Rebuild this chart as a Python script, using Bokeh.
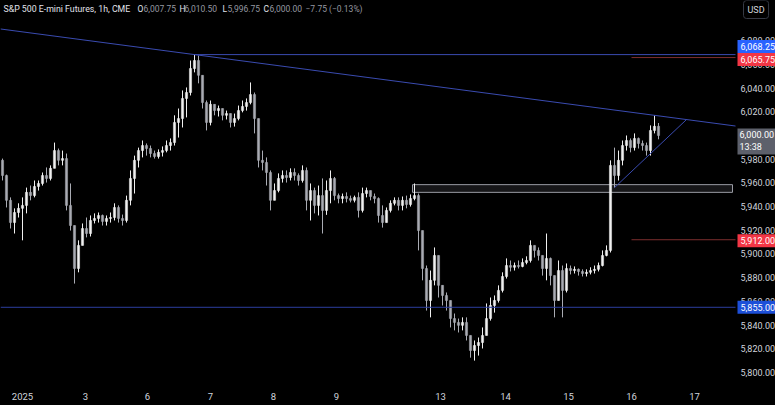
from bokeh.plotting import figure
from bokeh.models import Range1d, FixedTicker, Label, ColumnDataSource
from bokeh.core.properties import value
from bokeh.embed import file_html
from bokeh.resources import INLINE

# ---------------- data ----------------
first_open = 5979.0
closes = [
    5966.25, 5945.25, 5926.5, 5935, 5938.5, 5941, 5952, 5949.25, 5957, 5959.5,
    5966.25, 5963.75, 5972.25, 5987.25, 5979, 5980.5, 5941, 5924, 5887.75, 5907.25,
    5921.5, 5917.25, 5928.25, 5930, 5932.5, 5927.5, 5930, 5930.75, 5939.25, 5930,
    5928.25, 5945.25, 5963.75, 5979, 5987.25, 5991.5, 5989, 5984.75, 5982.25, 5985.75,
    5987.25, 5991.5, 5994, 6011, 6014.25, 6031.25, 6036.25, 6056.5, 6063.25, 6050.75,
    6027.75, 6011, 6026.25, 6021, 6022.75, 6017, 6018.5, 6011, 6014.25, 6021,
    6024.5, 6027.75, 6034.5, 6014.25, 5979, 5977.25, 5968.75, 5945.25, 5953.5, 5963.75,
    5966.25, 5964.5, 5968.75, 5966.25, 5962, 5970.5, 5945.25, 5953.5, 5941, 5949.25,
    5936.75, 5953.5, 5963.75, 5949.25, 5946.75, 5948.5, 5946.75, 5945.25, 5947.75, 5936.75,
    5951, 5953.5, 5948.5, 5946.75, 5932.5, 5926.5, 5936.75, 5942.75, 5945.25, 5941,
    5945.25, 5941.75, 5946.75, 5949.25, 5919.75, 5887.75, 5860.75, 5877.75, 5898.75, 5873.5,
    5865, 5860.75, 5845.5, 5842.25, 5839.75, 5842.25, 5831.25, 5818.5, 5822.75, 5825.25,
    5831.25, 5845.5, 5856.5, 5860.75, 5869.25, 5881, 5890.25, 5888.75, 5890.25, 5889.5,
    5892.75, 5894.5, 5907.25, 5903, 5898.75, 5887.75, 5896.25, 5881.75, 5860.75, 5886,
    5869.25, 5887.75, 5886, 5887, 5885.25, 5883.5, 5884.5, 5886, 5887, 5890.25,
    5898.75, 5903, 5974.75, 5966.25, 5979, 5991.5, 5995.75, 5989.75, 5997.5, 5993.25,
    5991.5, 5987.25, 6004.25, 6007.75, 6000,
]
highs = [
    5980.5, 5967, 5947.75, 5938.5, 5942.75, 5947.75, 5956, 5957.75, 5962, 5962,
    5968.75, 5973, 5974.75, 5994, 5989, 5987.25, 5984.75, 5959.5, 5924, 5911.5,
    5925.75, 5930.75, 5932.5, 5934.25, 5935, 5933.25, 5932.5, 5935, 5942.75, 5941,
    5933.25, 5949.25, 5970.5, 5983, 5989.75, 5995.75, 5993.25, 5991.5, 5987.25, 5988.25,
    5990.75, 5995.75, 5997.5, 6017, 6022.75, 6038, 6040.5, 6063.25, 6068.25, 6067.5,
    6050.75, 6029.5, 6029.5, 6026.25, 6025.25, 6022.75, 6021, 6018.5, 6018.5, 6025.25,
    6029.5, 6031.25, 6044.75, 6036.25, 6014.25, 5987.25, 5981.5, 5970.5, 5959.5, 5968,
    5970.5, 5970.5, 5972.25, 5972.25, 5968, 5974.75, 5973, 5959.5, 5956, 5957.75,
    5963.75, 5962, 5970.5, 5965, 5951, 5951, 5952, 5949.25, 5949.25, 5952,
    5956, 5956, 5953.5, 5951, 5947.75, 5941, 5939.25, 5945.25, 5947.75, 5947.75,
    5948.5, 5949.25, 5950.25, 5959.5, 5951, 5919.75, 5890.25, 5886, 5905.5, 5898.75,
    5873.5, 5867.5, 5860.75, 5849.75, 5845.5, 5846.5, 5846.5, 5831.25, 5827, 5829.5,
    5838, 5858.25, 5863.25, 5865, 5873.5, 5884.5, 5896.25, 5894.5, 5892.75, 5894.5,
    5896.25, 5898, 5911.5, 5907.25, 5905.5, 5898.75, 5917.25, 5897, 5881.75, 5894.5,
    5890.25, 5892, 5890.25, 5889.5, 5887.75, 5887, 5887, 5888.75, 5890.25, 5892.75,
    5903, 5907.25, 5979, 5989.75, 5987.25, 5995.75, 6000, 5997.5, 6001.75, 5998.25,
    5995.75, 5994, 6008.5, 6017, 6010.5,
]
lows = [
    5962, 5939.25, 5921.5, 5917.25, 5930.75, 5911.5, 5934.25, 5945.25, 5947.75, 5953.5,
    5957.75, 5960.25, 5962, 5972.25, 5974.75, 5974.75, 5936.75, 5919.75, 5875, 5884.5,
    5907.25, 5914, 5914.75, 5925.75, 5926.5, 5924, 5924, 5926.5, 5928.25, 5926.5,
    5924, 5926.5, 5941, 5951, 5973, 5981.5, 5983, 5981.5, 5980.5, 5980.5,
    5982.25, 5985.75, 5987.25, 5991.5, 5998.25, 6006.75, 6015.25, 6033.75, 6053.25, 6044,
    6022.75, 6004.25, 6008.5, 6017, 6016, 6012.75, 6013.5, 6006.75, 6007.5, 6012.75,
    6019.5, 6021, 6026.25, 6001.75, 5973, 5970.5, 5957.75, 5936.75, 5945.25, 5952,
    5960.25, 5960.25, 5962, 5962, 5957.75, 5960.25, 5936.75, 5928.25, 5934.25, 5932.5,
    5917.25, 5933, 5942.75, 5945.25, 5942.75, 5942.75, 5943.5, 5943.5, 5943.5, 5930.75,
    5935, 5947.75, 5945.25, 5942.75, 5926.5, 5922.25, 5926.5, 5935, 5941, 5936.75,
    5936.75, 5938.5, 5940, 5945.25, 5903, 5877.75, 5852.25, 5846.5, 5873.5, 5863.25,
    5856.5, 5852.25, 5838, 5835.5, 5833.75, 5835.5, 5827, 5812.5, 5810, 5814.25,
    5820.25, 5831.25, 5843.75, 5850.5, 5859, 5867.5, 5879.25, 5885.25, 5886, 5887.75,
    5888.75, 5891.25, 5892.75, 5897, 5894.5, 5881.75, 5877.75, 5873.5, 5846.5, 5860.75,
    5846.5, 5867.5, 5882.75, 5883.5, 5881.75, 5881, 5881, 5882.75, 5883.5, 5885.25,
    5889.5, 5898, 5901.25, 5956, 5962, 5974.75, 5987.25, 5985.75, 5987.25, 5989,
    5987.25, 5983, 5983, 6001.75, 5996.75,
]

day_pos = [5.5, 21.25, 36.75, 52.5, 68.25, 84, 110, 126.25, 142, 157.75, 173.5]
day_labels = ["2025", "3", "6", "7", "8", "9", "13", "14", "15", "16", "17"]
price_ticks = [5800, 5820, 5840, 5860, 5880, 5900, 5920, 5940, 5960, 5980,
               6000, 6020, 6040, 6060, 6080]

level_high = 6068.25      # blue horizontal from the swing high
level_low = 5855.00       # blue horizontal support
red_levels = [6065.75, 5912.00]
red_start = 157.75
zone_left, zone_right = 103, 183
zone_bottom, zone_top = 5952.0, 5958.5
rising_start_bar = 153
rising_end_x = 171.5
chart_end = 183.75        # right edge of the candle area (price scale beyond)
scale_x = 185.0           # where the price-scale labels start

ohlc_title = "S&P 500 E-mini Futures, 1h, CME"
ohlc_keys = ["O", "H", "L", "C"]
ohlc_vals = ["6,007.75", "6,010.50", "5,996.75", "6,000.00"]
change_text = "\u22127.75 (\u22120.13%)"
last_time = "13:38"

# ---------------- figure ----------------
W, H = 775, 405
FRAME_H = 385
FONT = "Roboto"
AX_COL = "#d1d4dc"

opens = [first_open] + closes[:-1]
xs = [i + 0.5 for i in range(len(closes))]

p = figure(width=W, height=H, x_range=Range1d(0, 193.75), y_range=Range1d(5789.0, 6113.9),
           y_axis_location=None, toolbar_location=None, output_backend="svg",
           min_border_left=0, min_border_right=0, min_border_top=0, min_border_bottom=20,
           background_fill_color="#000000", border_fill_color="#000000",
           outline_line_color=None)
p.grid.visible = False

# time axis
p.xaxis.ticker = FixedTicker(ticks=day_pos)
p.xaxis.major_label_overrides = {k: v for k, v in zip(day_pos, day_labels)}
ax = p.xaxis[0]
ax.axis_line_color = None
ax.major_tick_line_color = None
ax.minor_tick_line_color = None
ax.major_tick_in = 0
ax.major_tick_out = 0
ax.major_label_text_color = AX_COL
ax.major_label_text_font = FONT
ax.major_label_text_font_size = "9.5px"
ax.major_label_standoff = 7

# zone rectangle (behind candles)
p.quad(left=[zone_left], right=[zone_right], bottom=[zone_bottom], top=[zone_top],
       fill_color="#787b86", fill_alpha=0.18, line_color="#9a9ca5", line_width=1)

# candles
up = [c >= o for o, c in zip(opens, closes)]
def subset(mask):
    return ColumnDataSource(dict(
        x=[x for x, m in zip(xs, mask) if m],
        hi=[v for v, m in zip(highs, mask) if m],
        lo=[v for v, m in zip(lows, mask) if m],
        top=[max(o, c) for o, c, m in zip(opens, closes, mask) if m],
        bot=[min(o, c) for o, c, m in zip(opens, closes, mask) if m],
    ))
src_up = subset(up)
src_dn = subset([not u for u in up])
for src, col in ((src_up, "#f0f0f0"), (src_dn, "#a9abb3")):
    p.segment(x0="x", y0="lo", x1="x", y1="hi", source=src, line_color=col, line_width=1)
    p.vbar(x="x", width=0.55, top="top", bottom="bot", source=src,
           fill_color=col, line_color=col, line_width=0.5)

# trendlines / levels
peak_i = highs.index(max(highs))
recent_i = len(highs) - 10 + highs[-10:].index(max(highs[-10:]))
grad = (highs[recent_i] - highs[peak_i]) / (xs[recent_i] - xs[peak_i])
icpt = highs[peak_i] - grad * xs[peak_i]
BLUE = "#3a4bb0"
p.segment(x0=[0], y0=[icpt], x1=[chart_end], y1=[icpt + grad * chart_end],
          line_color=BLUE, line_width=1)
p.segment(x0=[xs[peak_i]], y0=[level_high], x1=[chart_end], y1=[level_high],
          line_color=BLUE, line_width=1)
p.segment(x0=[0], y0=[level_low], x1=[chart_end], y1=[level_low],
          line_color="#2c3e9e", line_width=1)
for lv in red_levels:
    p.segment(x0=[red_start], y0=[lv], x1=[chart_end], y1=[lv], line_color="#7d2e2e", line_width=1)
p.segment(x0=[xs[rising_start_bar]], y0=[lows[rising_start_bar]],
          x1=[rising_end_x], y1=[grad * rising_end_x + icpt], line_color=BLUE, line_width=1)

# price scale labels
p.text(x=[scale_x] * len(price_ticks), y=price_ticks,
       text=[f"{v:,.2f}" for v in price_ticks],
       text_color=AX_COL, text_font=value(FONT), text_font_size="9px",
       text_baseline="middle", text_align="left")

# price-scale tags
def tag(price, text, bg, yoff=0, baseline="middle", pad=3):
    p.add_layout(Label(x=737, x_units="screen", y=price, y_offset=yoff, text=text,
                       text_color="#ffffff", text_font=FONT, text_font_size="9px",
                       text_baseline=baseline, text_align="left",
                       background_fill_color=bg, padding=pad))
tag(level_high, f"{level_high:,.2f}", "#2962ff", 8)
tag(red_levels[0], f"{red_levels[0]:,.2f}", "#f23645", -2)
tag(red_levels[1], f"{red_levels[1]:,.2f}", "#f23645", -1)
tag(level_low, f"{level_low:,.2f}", "#1d4fd8", 0)
tag(closes[-1], f"{closes[-1]:,.2f}\n{last_time}", "#5d606b", 7, "top", 2)

# header
def hdr(x, text, color, size="8.75px"):
    p.add_layout(Label(x=x, y=FRAME_H - 8, x_units="screen", y_units="screen", text=text,
                       text_color=color, text_font=FONT, text_font_size=size,
                       text_baseline="middle", text_align="left"))
hdr(3, ohlc_title, "#e0e3eb")
for kx, vx, k, v in zip([137, 179, 222, 263], [143, 184, 227, 269], ohlc_keys, ohlc_vals):
    hdr(kx, k, "#e0e3eb", "8.5px")
    hdr(vx, v, "#9598a1", "8.5px")
hdr(305, change_text, "#9598a1", "8.5px")

p.add_layout(Label(x=743, y=FRAME_H - 9, x_units="screen", y_units="screen", text="USD",
                   text_color="#d1d4dc", text_font=FONT, text_font_size="9px",
                   text_baseline="middle", text_align="left",
                   border_line_color="#363a45", border_line_width=1, padding=4,
                   border_radius=3))

html = file_html(p, INLINE, title="S&P 500 E-mini Futures")
html = html.replace("</head>", "<style>html,body{margin:0;padding:0;background:#000000;overflow:hidden;}</style></head>", 1)
open("out.html", "w").write(html)
